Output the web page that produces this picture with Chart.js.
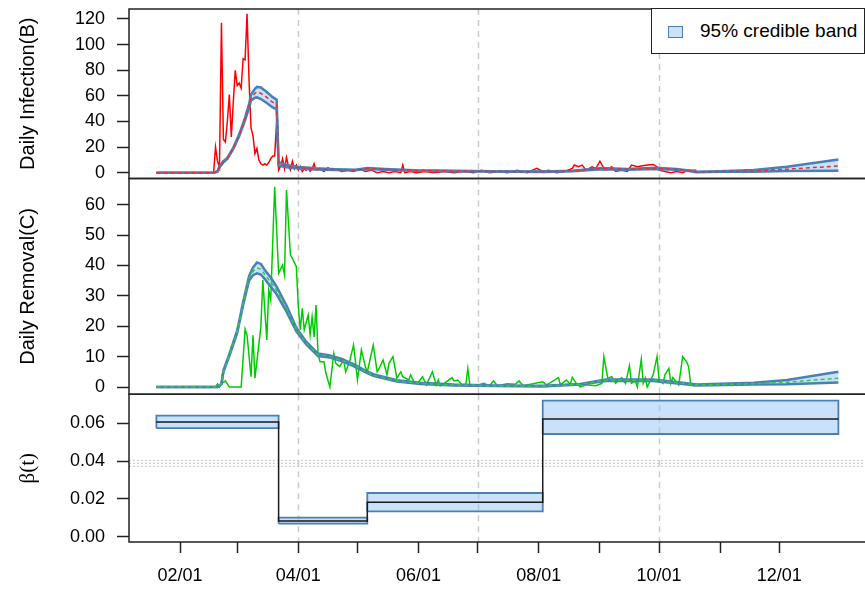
<!DOCTYPE html>
<html>
<head>
<meta charset="utf-8">
<script src="https://cdn.jsdelivr.net/npm/chart.js@4.4.1/dist/chart.umd.min.js"></script>
<style>
  html, body { margin: 0; padding: 0; background: #fff; overflow: hidden; }
  #wrap { position: relative; width: 865px; height: 589px; }
  #wrap canvas { position: absolute; left: 0; top: 0; }
  #legend {
    position: absolute; left: 651px; top: 8px; width: 214px; height: 46px;
    box-sizing: border-box; border: 1.5px solid #222; background: #fff;
    font: 19px "Liberation Sans", Arial, sans-serif; color: #000;
  }
  #legend i {
    position: absolute; left: 16px; top: 17px; width: 15px; height: 12px;
    box-sizing: border-box; background: #cde1f8; border: 1.5px solid #4a80b8;
  }
  #legend span { position: absolute; left: 48px; top: 11px; line-height: 22px; }
</style>
</head>
<body>
<div id="wrap">
  <canvas id="panelB" width="865" height="589"></canvas>
  <canvas id="panelC" width="865" height="589"></canvas>
  <canvas id="panelBeta" width="865" height="589"></canvas>
  <div id="legend"><i></i><span>95% credible band</span></div>
</div>
<script>
// Days are counted from 2020-01-01 (day 0).

// x axis: month ticks, only every other one labelled
const monthDays = [31, 60, 91, 121, 152, 182, 213, 244, 274, 305, 335];
const monthLabels = ["02/01", "", "04/01", "", "06/01", "", "08/01", "", "10/01", "", "12/01"];
const quarterDays = [91, 182, 274];

// observed daily infection (B)
const infObsDays = [
  19, 47, 48, 49, 50, 51, 52, 53, 54, 55,
  56, 57, 58, 59, 60, 61, 62, 63, 64, 65,
  66, 67, 68, 69, 70, 71, 72, 73, 74, 75,
  76, 77, 78, 79, 80, 81, 82, 83, 84, 85,
  86, 87, 88, 89, 90, 91, 92, 93, 94, 95,
  96, 97, 98, 99, 100, 102, 104, 106, 108, 110,
  113, 116, 119, 122, 125, 128, 131, 134, 137, 140,
  143, 144, 145, 148, 151, 155, 160, 165, 170, 175,
  180, 184, 188, 193, 197, 202, 207, 212, 215, 218,
  222, 226, 230, 231, 233, 235, 237, 240, 242, 244,
  246, 247, 250, 252, 255, 258, 260, 263, 265, 268,
  271, 273, 274, 277, 280, 283, 286, 289, 293
];
const infObs = [
  0, 0, 0, 20, 9, 4, 117, 26, 24, 40,
  61, 28, 55, 80, 68, 70, 66, 89, 88, 124,
  72, 35, 29, 15, 19, 10, 7, 6, 7, 6,
  8, 11, 13, 13, 40, 2, 5, 11, 3, 12,
  5, 2, 9, 3, 6, 2, 5, 1, 3, 2,
  4, 1, 3, 7, 2, 3, 1, 4, 2, 3,
  1, 2, 1, 3, 1, 2, 0, 1, 0, 1,
  0, 6, 0, 1, 0, 1, 0, 1, 0, 1,
  0, 2, 0, 1, 0, 2, 0, 3.4, 1, 2,
  0, 1, 3.4, 6, 4.7, 6, 2, 4.7, 3.4, 9,
  3.4, 2, 4.7, 1, 2, 1, 6, 4.7, 5.3, 6,
  6.5, 4.7, 2, 1, 0, 1, 0, 2, 2
];

// fitted daily infection: 95% band and median
const infDays = [19, 48, 50, 51, 53, 55, 58, 61, 64, 66, 67, 69, 70, 72, 75, 78, 80, 81, 85, 91,
  100, 110, 120, 126, 135, 150, 170, 190, 215, 230, 245, 258, 272, 283, 290, 293, 305, 322, 339, 365];
const infLo = [0, 0, 0.8, 4, 8.2, 10.8, 18.5, 28.5, 41, 50.5, 56.5, 58.5, 58.8, 57.5, 54.5, 51, 49.5, 5.4, 4.2, 3.3,
  2.6, 2.1, 1.9, 3.0, 2.4, 1.6, 1.2, 0.9, 0.6, 1.2, 2.8, 2.4, 3.0, 2.4, 1.2, 0.4, 0.7, 0.8, 1.3, 1.6];
const infHi = [0, 0, 1.2, 5, 9, 11.6, 19.5, 30, 43, 53.5, 61, 65.5, 67, 66.5, 63, 59, 57, 8.2, 6, 4.5,
  3.5, 2.8, 2.4, 3.6, 2.9, 2.0, 1.6, 1.2, 0.9, 1.6, 3.6, 3.0, 3.8, 3.0, 1.6, 0.8, 1.2, 2.1, 4.7, 10.4];
const infMed = [0, 0, 1, 4.5, 8.6, 11.2, 19, 29.2, 42, 52, 58.8, 62, 63, 62, 58.8, 55, 53.2, 6.8, 5.1, 3.9,
  3.0, 2.4, 2.1, 3.3, 2.6, 1.8, 1.4, 1.0, 0.7, 1.4, 3.2, 2.7, 3.4, 2.7, 1.4, 0.6, 0.9, 1.4, 2.8, 5.2];

// observed daily removal (C)
const remObsDays = [
  19, 49, 50, 51, 52, 54, 56, 62, 64, 65,
  67, 68, 69, 72, 73, 75, 76, 77, 79, 81,
  83, 84, 85, 87, 88, 90, 91, 92, 93, 94,
  96, 97, 98, 99, 100, 101, 102, 104, 105, 107,
  109, 110, 112, 114, 115, 117, 119, 120, 121, 123,
  125, 126, 129, 131, 132, 134, 136, 137, 139, 141,
  143, 144, 147, 148, 150, 152, 154, 156, 159, 161,
  162, 163, 165, 169, 170, 172, 174, 176, 177, 178,
  181, 185, 188, 190, 192, 197, 201, 203, 205, 215,
  217, 223, 224, 227, 229, 230, 232, 234, 237, 242,
  245, 246, 248, 250, 252, 255, 257, 259, 260, 262,
  263, 265, 266, 267, 268, 271, 273, 274, 276, 277,
  279, 280, 281, 282, 284, 286, 288, 289, 290, 292,
  293
];
const remObs = [
  0, 0, 1, 0, 1, 2, 0, 0, 19, 17,
  3.4, 17, 2.9, 19.8, 35.2, 15.5, 31.9, 28.6, 65.9, 37.4,
  40.1, 36.8, 64.8, 43.4, 42.3, 39.6, 26.4, 18.8, 25.9, 18.8,
  23.7, 17.1, 23.1, 16.5, 27, 11, 8.3, 8.3, 4.5, 0,
  11, 7.8, 6.7, 8.9, 5, 8.3, 13.8, 8.3, 2.3, 12.2,
  6.7, 5, 13.8, 5, 6.1, 8.9, 4, 7.8, 10, 2.9,
  5, 3.4, 2.3, 4, 1.2, 1.7, 3.4, 0.7, 5, 0.7,
  2.3, 0.4, 1.2, 3.1, 2, 2.3, 0.7, 0.9, 6.1, 0.7,
  0.4, 1.2, 0.4, 2, 0.4, 1.1, 0.9, 2, 0.4, 1.7,
  0.7, 3.1, 0.7, 2.3, 0.9, 3.2, 1.2, 0, 0.7, 0.4,
  1.2, 10, 2.9, 3.4, 1.2, 3.1, 1.2, 7, 1.2, 2,
  0, 9.1, 1.2, 2.9, 0, 4, 10, 2.3, 1.2, 4,
  6.1, 1.2, 3.1, 2.3, 0.7, 10, 8.3, 6.7, 1.2, 0.4,
  1.2
];

// fitted daily removal: 95% band and median
const remDays = [19, 50, 52, 53, 56, 60, 63, 66, 68, 70, 72, 74, 77, 80, 85, 90, 95, 101, 107, 113,
  119, 126, 129, 141, 153, 170, 190, 215, 234, 247, 271, 286, 293, 322, 339, 365];
const remLo = [0, 0, 1, 5, 10.2, 17.8, 27, 35, 36.8, 37.4, 37, 35.5, 33, 30.5, 24.8, 18.3, 14, 10.2, 9.7, 8.5,
  6.9, 4.6, 3.7, 1.8, 1.0, 0.5, 0.3, 0.2, 0.8, 2.0, 2.0, 1.0, 0.5, 0.8, 0.9, 1.5];
const remHi = [0, 0, 1, 5.5, 10.8, 18.6, 28, 36.5, 39.3, 41, 40.5, 38.5, 36, 33, 26.8, 19.5, 14.9, 11, 10.4, 9.2,
  7.5, 5.1, 4.2, 2.2, 1.4, 0.8, 0.5, 0.4, 1.0, 2.5, 2.5, 1.4, 0.8, 1.4, 2.3, 5.0];
const remMed = [0, 0, 1, 5.2, 10.5, 18.2, 27.5, 35.8, 38, 39.2, 38.8, 37, 34.5, 31.8, 25.8, 18.9, 14.4, 10.6, 10, 8.8,
  7.2, 4.8, 3.9, 2.0, 1.2, 0.65, 0.4, 0.3, 0.9, 2.25, 2.25, 1.2, 0.65, 1.1, 1.6, 2.9];

// piecewise-constant transmission rate beta(t)
const betaStart = [19, 81, 126, 215];
const betaEnd = [81, 126, 215, 365];
const betaMed = [0.0607, 0.0083, 0.0182, 0.0623];
const betaLo = [0.0574, 0.0069, 0.0134, 0.0543];
const betaHi = [0.0640, 0.0101, 0.0231, 0.0720];
const betaRef = [0.0372, 0.0388, 0.0404];

// y tick values per panel
const infTicks = [0, 20, 40, 60, 80, 100, 120];
const remTicks = [0, 10, 20, 30, 40, 50, 60];
const betaTicks = [0, 0.02, 0.04, 0.06];

const FONT = '"Liberation Sans", Arial, Helvetica, sans-serif';
const BLUE = "#4a80b8";
const BAND = "rgba(150, 195, 245, 0.5)";
const AXIS = "#222";
const X_MIN = 5.1, X_MAX = 378.5;

Chart.defaults.font.family = FONT;
Chart.defaults.color = "#000";
Chart.defaults.animation = false;

const pts = (xs, ys) => xs.map((x, i) => ({ x, y: ys[i] }));

// reference lines under the data, R-style open box on top
const panelPlugin = {
  id: "panel",
  beforeDatasetsDraw(chart, args, opts) {
    const { ctx, chartArea: a, scales: { x, y } } = chart;
    ctx.save();
    ctx.strokeStyle = "#cccccc";
    ctx.lineWidth = 1.5;
    ctx.setLineDash([6, 5]);
    for (const d of quarterDays) {
      const px = Math.round(x.getPixelForValue(d)) + 0.5;
      ctx.beginPath(); ctx.moveTo(px, a.top); ctx.lineTo(px, a.bottom); ctx.stroke();
    }
    ctx.setLineDash([2, 2]);
    ctx.lineWidth = 1.2;
    for (const v of (opts.hLines || [])) {
      const py = y.getPixelForValue(v);
      ctx.beginPath(); ctx.moveTo(a.left, py); ctx.lineTo(a.right, py); ctx.stroke();
    }
    ctx.restore();
  },
  afterDraw(chart) {
    const { ctx, chartArea: a } = chart;
    ctx.save();
    ctx.strokeStyle = AXIS;
    ctx.lineWidth = 1.5;
    ctx.beginPath();
    ctx.moveTo(a.right + 10, a.top);
    ctx.lineTo(a.left, a.top);
    ctx.lineTo(a.left, a.bottom);
    ctx.lineTo(a.right + 10, a.bottom);
    ctx.stroke();
    ctx.restore();
  }
};

function xScale(show) {
  return {
    type: "linear", min: X_MIN, max: X_MAX, display: show,
    afterBuildTicks: (s) => { s.ticks = monthDays.map((v) => ({ value: v })); },
    afterFit: (s) => {
      s.height = show ? 47 : 0;
      s.paddingLeft = 0; s.paddingRight = 0;
    },
    grid: { drawOnChartArea: false, tickLength: 11, tickColor: AXIS, tickWidth: 1.5 },
    border: { display: false },
    ticks: { font: { size: 18 }, color: "#000", padding: 12, maxRotation: 0, autoSkip: false,
             callback: (v, i) => monthLabels[i] }
  };
}

function yScale(min, max, ticks, fmt, title, titleFont) {
  return {
    type: "linear", min, max,
    afterBuildTicks: (s) => { s.ticks = ticks.map((v) => ({ value: v })); },
    afterFit: (s) => { s.width = 129; s.paddingTop = 0; s.paddingBottom = 0; },
    grid: { drawOnChartArea: false, tickLength: 12, tickColor: AXIS, tickWidth: 1.5 },
    border: { display: false },
    ticks: { font: { size: 18 }, color: "#000", padding: 12, callback: fmt },
    title: { display: true, text: title, color: "#000", font: titleFont, padding: { top: 16, bottom: 0 } }
  };
}

function line(data, color, width, extra) {
  return Object.assign({ data, borderColor: color, borderWidth: width, pointRadius: 0,
    tension: 0, fill: false }, extra || {});
}

// band datasets: median on top, then lower edge, then filled upper edge, observed at the bottom
function bandPanel(days, lo, hi, med, medColor, obsDays, obs, obsColor) {
  return [
    line(pts(days, med), medColor, 1.5, { borderDash: [4, 3] }),
    line(pts(days, lo), BLUE, 2.5),
    line(pts(days, hi), BLUE, 2.5, { fill: "-1", backgroundColor: BAND }),
    line(pts(obsDays, obs), obsColor, 1.5)
  ];
}

function makePanel(id, top, bottom, datasets, y, showX, hLines) {
  return new Chart(document.getElementById(id), {
    type: "line",
    data: { datasets },
    options: {
      responsive: false,
      layout: { padding: { left: 0, right: 0, top, bottom } },
      plugins: { legend: { display: false }, tooltip: { enabled: false }, panel: { hLines } },
      scales: { x: xScale(showX), y }
    },
    plugins: [panelPlugin]
  });
}

makePanel("panelB", 9, 589 - 178.5,
  bandPanel(infDays, infLo, infHi, infMed, "#e8303a", infObsDays, infObs, "#ff0000"),
  yScale(-4.5, 127.8, infTicks, (v) => String(v), "Daily Infection(B)", { size: 20, family: FONT }),
  false, []);

makePanel("panelC", 178.5, 589 - 394.3,
  bandPanel(remDays, remLo, remHi, remMed, "#2ecc40", remObsDays, remObs, "#00cd00"),
  yScale(-2.4, 68.6, remTicks, (v) => String(v), "Daily Removal(C)", { size: 20, family: FONT }),
  false, []);

// beta panel: one closed rectangle per segment plus the black step median
const betaSets = [
  line(pts([...betaStart, betaEnd[betaEnd.length - 1]], [...betaMed, betaMed[betaMed.length - 1]]),
       "#1a1a1a", 1.5, { stepped: "before" })
];
betaStart.forEach((s, i) => {
  const e = betaEnd[i];
  betaSets.push(line(pts([s, s, e, e, s], [betaLo[i], betaHi[i], betaHi[i], betaLo[i], betaLo[i]]),
    BLUE, 1.8, { fill: "shape", backgroundColor: BAND }));
});

makePanel("panelBeta", 394.3, 0, betaSets,
  yScale(-0.0028, 0.0753, betaTicks, (v) => v.toFixed(2), "β(t)",
         { size: 21, family: '"Liberation Serif", "DejaVu Serif", serif' }),
  true, betaRef);
</script>
</body>
</html>
